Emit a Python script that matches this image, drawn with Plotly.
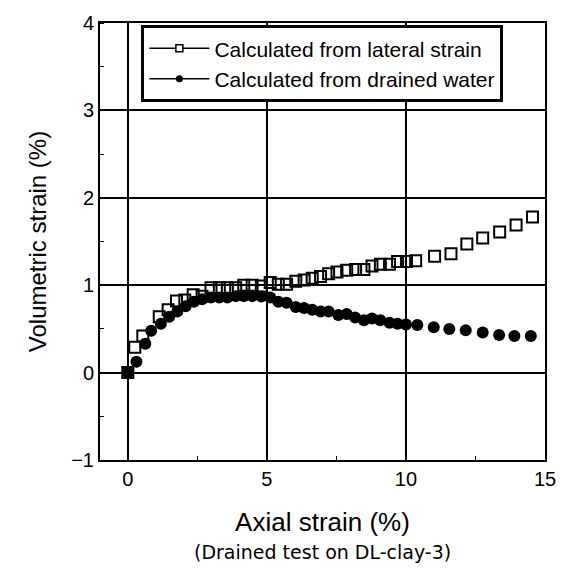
import plotly.graph_objects as go

# Calculated from lateral strain (open squares)
lat_x = [0.0, 0.25, 0.54, 1.13, 1.45, 1.75, 2.05, 2.35, 2.67, 2.99, 3.29, 3.58, 3.88, 4.17, 4.47, 4.8,
         5.12, 5.41, 5.71, 6.04, 6.34, 6.63, 6.93, 7.22, 7.52, 7.87, 8.19, 8.49, 8.78, 9.08, 9.41, 9.7,
         10.02, 10.35, 11.03, 11.62, 12.19, 12.76, 13.37, 13.96, 14.55]
lat_y = [0.0, 0.29, 0.42, 0.64, 0.72, 0.82, 0.83, 0.89, 0.875, 0.97, 0.97, 0.97, 0.97, 1.0, 1.0, 0.99,
         1.03, 1.01, 1.01, 1.045, 1.06, 1.08, 1.10, 1.13, 1.15, 1.17, 1.18, 1.18, 1.22, 1.24, 1.24, 1.27,
         1.27, 1.28, 1.33, 1.36, 1.47, 1.54, 1.61, 1.69, 1.78]

# Calculated from drained water (filled circles)
drn_x = [0.0, 0.31, 0.63, 0.84, 1.19, 1.49, 1.78, 2.08, 2.38, 2.67, 2.99, 3.29, 3.58, 3.88, 4.17, 4.47,
         4.8, 5.12, 5.41, 5.71, 6.04, 6.34, 6.63, 6.93, 7.22, 7.57, 7.87, 8.17, 8.49, 8.78, 9.08, 9.41,
         9.7, 10.0, 10.41, 11.0, 11.56, 12.15, 12.76, 13.35, 13.9, 14.49]
drn_y = [0.0, 0.125, 0.33, 0.48, 0.56, 0.64, 0.70, 0.76, 0.81, 0.84, 0.86, 0.86, 0.86, 0.875, 0.875, 0.875,
         0.87, 0.86, 0.81, 0.80, 0.75, 0.74, 0.72, 0.70, 0.70, 0.66, 0.67, 0.63, 0.60, 0.62, 0.60, 0.57,
         0.56, 0.55, 0.545, 0.52, 0.50, 0.485, 0.46, 0.43, 0.42, 0.42]

x_ticks = [0, 5, 10, 15]
y_ticks = [-1, 0, 1, 2, 3, 4]

FONT = "Liberation Sans"

fig = go.Figure()
fig.add_trace(go.Scatter(x=drn_x, y=drn_y, mode="markers", showlegend=False,
                         marker=dict(symbol="circle", size=12, color="black")))
fig.add_trace(go.Scatter(x=lat_x, y=lat_y, mode="markers", showlegend=False,
                         marker=dict(symbol="square-open", size=11, color="black", line=dict(width=2))))
# legend entries
fig.add_trace(go.Scatter(x=[None], y=[None], mode="lines+markers", name="Calculated from lateral strain",
                         line=dict(color="black", width=1.5),
                         marker=dict(symbol="square", size=7, color="white", line=dict(color="black", width=1.5))))
fig.add_trace(go.Scatter(x=[None], y=[None], mode="lines+markers", name="Calculated from drained water",
                         line=dict(color="black", width=1.5),
                         marker=dict(symbol="circle", size=7, color="black")))

axis_common = dict(showline=True, linecolor="black", linewidth=2, mirror=True,
                   showgrid=True, gridcolor="black", gridwidth=1.5,
                   zeroline=True, zerolinecolor="black", zerolinewidth=1.5,
                   ticks="", tickfont=dict(family=FONT, size=20, color="black"))

fig.update_xaxes(range=[-1, 15], tickvals=x_ticks, ticktext=[str(v) for v in x_ticks],
                 minor=dict(ticks="inside", ticklen=4, tickcolor="black", dtick=2.5, tick0=0, showgrid=False),
                 title=dict(text="Axial strain (%)", font=dict(family=FONT, size=26, color="black"), standoff=24),
                 **axis_common)
fig.update_yaxes(range=[-1, 4], tickvals=y_ticks, ticktext=["\u22121" if v == -1 else str(v) for v in y_ticks],
                 minor=dict(ticks="inside", ticklen=4, tickcolor="black", dtick=0.5, tick0=0, showgrid=False),
                 title=dict(text="Volumetric strain (%)", font=dict(family=FONT, size=24, color="black"), standoff=18),
                 **axis_common)

fig.add_annotation(text="(Drained test on DL-clay-3)", xref="paper", yref="paper",
                   x=0.5, y=-0.21, xanchor="center", yanchor="middle", showarrow=False,
                   font=dict(family="DejaVu Sans", size=19, color="black"))

fig.update_layout(
    width=568, height=574,
    margin=dict(l=100, r=16, t=20, b=114),
    plot_bgcolor="white", paper_bgcolor="white",
    legend=dict(x=0.093, y=0.995, xanchor="left", yanchor="top",
                bgcolor="white", bordercolor="black", borderwidth=3,
                font=dict(family=FONT, size=21, color="black"),
                tracegroupgap=0, itemwidth=60),
)

fig.write_html("out.html")
